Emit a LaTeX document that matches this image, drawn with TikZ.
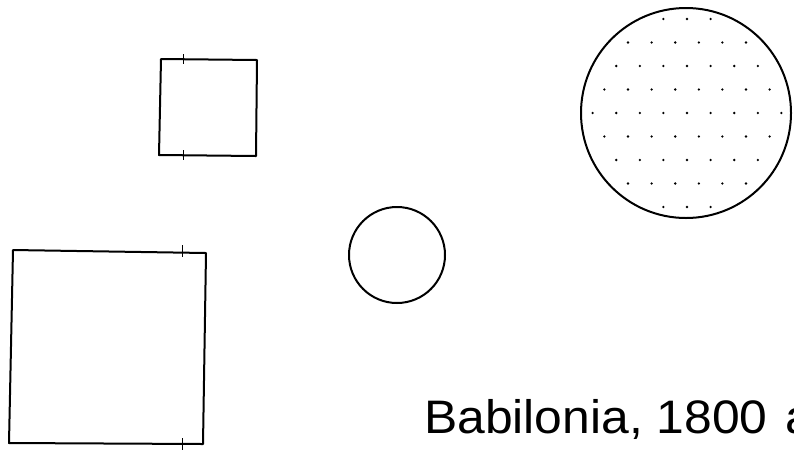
\documentclass[tikz,border=0pt]{standalone}
\usepackage{fontspec}
\setmainfont{Liberation Sans}
\usetikzlibrary{calc}
\begin{document}
\begin{tikzpicture}[x=1pt,y=-1pt,
  shape line/.style={line width=2pt, line join=round},
  tick/.style={line width=0.7pt},
  dot/.style={fill=black}]
\useasboundingbox (0,0) rectangle (794,451);
\clip (0,0) rectangle (794,451);
% small square
\draw[shape line] (161,59) -- (257,60) -- (256,156) -- (159,155) -- cycle;
\draw[tick] (183,54) -- (183,64);
\draw[tick] (183,150) -- (183,160);
% large square
\draw[shape line] (13,250) -- (206,253) -- (203,444) -- (9,443) -- cycle;
\draw[tick] (182,245) -- (182,257);
\draw[tick] (182,438) -- (182,450);
% small circle
\draw[shape line] (397,255) circle (48);
% big dotted circle
\draw[shape line] (686,113) circle (105);
\foreach \j in {-4,...,4}{
  \foreach \k in {-5,...,5}{
    \pgfmathsetmacro{\off}{mod(abs(\j),2)==1 ? 11.8 : 0}
    \pgfmathsetmacro{\dx}{1+\off+23.6*\k}
    \pgfmathsetmacro{\dy}{23.5*\j}
    \pgfmathsetmacro{\dd}{veclen(\dx,\dy)}
    \ifdim \dd pt<100pt
      \fill[dot] (686+\dx,113+\dy) circle (1.3);
    \fi
  }
}
% text
\node[anchor=base west, inner sep=0pt, font=\fontsize{47}{50}\selectfont, xscale=1.06] (label) at (424,433) {Babilonia, 1800\hspace{0.35em}a.C.};
\end{tikzpicture}
\end{document}
